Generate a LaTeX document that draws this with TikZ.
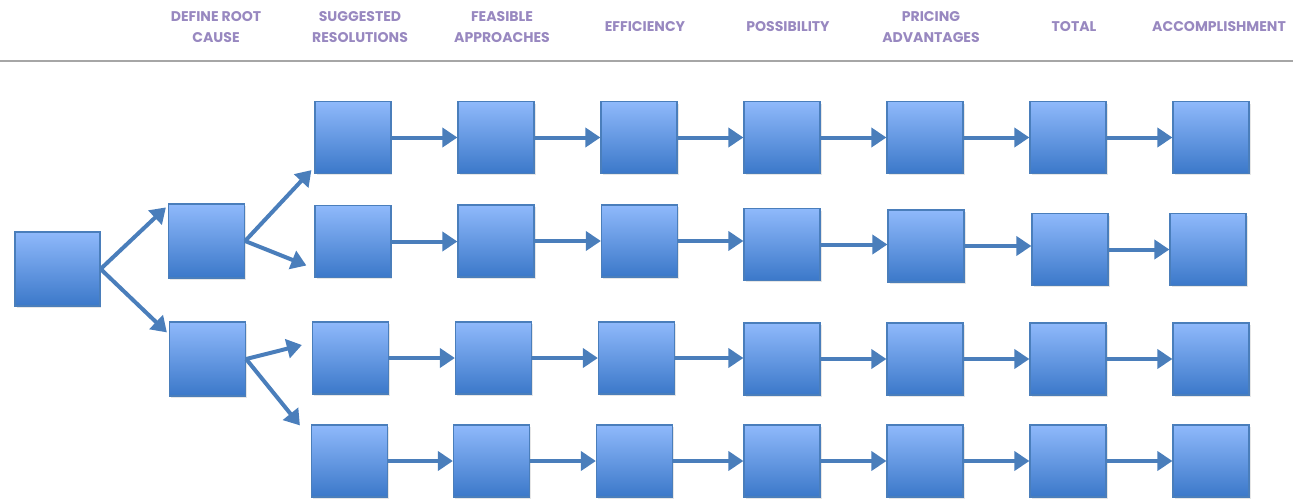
\documentclass[tikz,border=0pt]{standalone}
\usepackage{fontspec}
\setsansfont{Poppins}
\usetikzlibrary{arrows.meta,shadows,positioning}
\definecolor{boxtop}{HTML}{8FB9FB}
\definecolor{boxbot}{HTML}{3B78C9}
\definecolor{boxline}{HTML}{4A7EBB}
\definecolor{headtxt}{HTML}{9888C0}
\definecolor{rulegray}{HTML}{A6A6A6}
\tikzset{
  blk/.style={draw=boxline, line width=0.7pt, top color=boxtop, bottom color=boxbot,
    minimum width=1.52cm, minimum height=1.44cm, inner sep=0pt,
    drop shadow={opacity=0.2, shadow xshift=0.03cm, shadow yshift=-0.04cm}},
  conn/.style={draw=boxline, line width=0.08cm, -{Triangle[length=0.3cm,width=0.38cm]}},
  head/.style={text=headtxt, font=\sffamily\bfseries\fontsize{8}{12}\selectfont, align=center}
}

\begin{document}
\begin{tikzpicture}[x=0.02cm, y=-0.02cm]
            \useasboundingbox (0,0) rectangle (1293,500);
            % column titles
            \node[head] (hd1) at (216,27) {DEFINE ROOT\\CAUSE};
            \node[head] (hd2) at (360,27) {SUGGESTED\\RESOLUTIONS};
            \node[head] (hd3) at (502,27) {FEASIBLE\\APPROACHES};
            \node[head] (hd4) at (645,27) {EFFICIENCY};
            \node[head] (hd5) at (788,27) {POSSIBILITY};
            \node[head] (hd6) at (931,27) {PRICING\\ADVANTAGES};
            \node[head] (hd7) at (1074,27) {TOTAL};
            \node[head] (hd8) at (1219,27) {ACCOMPLISHMENT};
            \draw [rulegray, line width=0.04cm] (0,61)--(1293,61);
            % root and causes
            \node[blk, minimum width=1.7cm, minimum height=1.48cm] (root) at (57.5,269) {};
            \node[blk, minimum height=1.48cm] (rc1) at (206.5,241) {};
            \node[blk, minimum height=1.48cm] (rc2) at (207.5,359) {};
            % the four rows
            \foreach \x/\y [count=\i] in {353/137.5,496/137.5,639/137.5,782/137.5,925/137.5,1068/137.5,1211/137.5}
              \node[blk] (r1c\i) at (\x,\y) {};
            \foreach \x/\y [count=\i] in {353/241.5,496/241,639.5/241,782/244.5,926/246,1070/249.5,1208/249.5}
              \node[blk] (r2c\i) at (\x,\y) {};
            \foreach \x/\y [count=\i] in {350.5/358,493.5/358,636.5/358,782/359,925/359,1068/359,1211/359}
              \node[blk] (r3c\i) at (\x,\y) {};
            \foreach \x/\y [count=\i] in {349.5/461,491.5/461,634.5/461,782/461,925/461,1068/461,1211/461}
              \node[blk] (r4c\i) at (\x,\y) {};
            % branches
            \draw [conn] (root.east)--([shift={(-2,4)}]rc1.north west);
            \draw [conn] (root.east)--([shift={(-2,11)}]rc2.north west);
            \draw [conn] (rc1.east)--([shift={(-3,-4)}]r1c1.south west);
            \draw [conn] (rc1.east)--([shift={(-8,24)}]r2c1.west);
            \draw [conn] (rc2.east)--([shift={(-10,-13)}]r3c1.west);
            \draw [conn] (rc2.east)--([shift={(-11,1)}]r4c1.north west);
            % arrows along the rows
            \foreach \r in {1,...,4}
              \foreach \i/\j in {1/2,2/3,3/4,4/5,5/6,6/7}
                \draw [conn] (r\r c\i.east)--(r\r c\i.east -| r\r c\j.west);
\end{tikzpicture}
\end{document}
